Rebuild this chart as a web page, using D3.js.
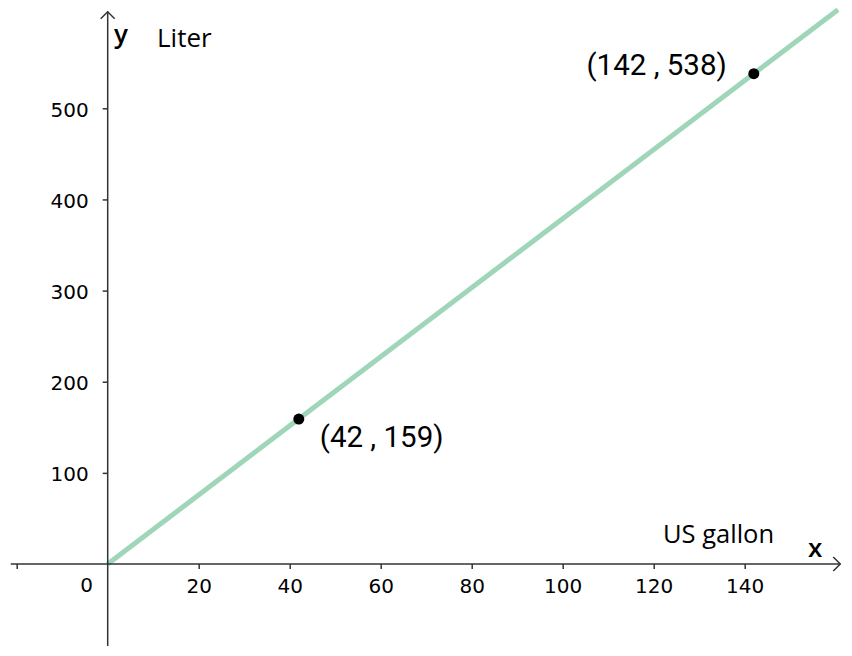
<!DOCTYPE html>
<html lang="en">
<meta charset="UTF-8">
<title>US gallon to Liter</title>
<script src="https://d3js.org/d3.v7.min.js"></script>
<style>
  body { margin: 0; background: #fff; }
  .tick text { font-family: "DejaVu Sans", sans-serif; font-size: 20px; fill: #000; }
  .tick line { stroke: #333; stroke-width: 1.5; }
</style>
<body>
<div id="my_dataviz"></div>
<script>

// data
var xTicks = [-20, 20, 40, 60, 80, 100, 120, 140];
var yTicks = [100, 200, 300, 400, 500];
var points = [[42, 159], [142, 538]];
var pointLabels = ["(42 , 159)", "(142 , 538)"];
var lineX = [0, 160.5];          // the conversion line y = 3.79 x
var ratio = 538 / 142;
var xLimits = [-21.3, 161];
var yLimits = [-90, 606];

var width = 852, height = 656;

var svg = d3.select("#my_dataviz")
  .append("svg")
    .attr("width", width)
    .attr("height", height);

// scales
var x = d3.scaleLinear()
  .domain([0, 140])
  .range([107.7, 744.7]);
var y = d3.scaleLinear()
  .domain([0, 500])
  .range([564, 108.3]);

// conversion line
svg.append("line")
  .attr("x1", x(lineX[0]))
  .attr("y1", y(lineX[0] * ratio))
  .attr("x2", x(lineX[1]))
  .attr("y2", y(lineX[1] * ratio))
  .attr("stroke", "#9fd5b8")
  .attr("stroke-width", 5);

// X axis
var xAxis = svg.append("g")
  .attr("transform", "translate(0," + y(0) + ")")
  .call(d3.axisBottom(x)
    .tickValues(xTicks)
    .tickSize(5)
    .tickPadding(10)
    .tickFormat(function(d) { return d < 0 ? "" : d; }));
xAxis.select(".domain").remove();

// Y axis
var yAxis = svg.append("g")
  .attr("transform", "translate(" + x(0) + ",0)")
  .call(d3.axisLeft(y)
    .tickValues(yTicks)
    .tickSize(5)
    .tickPadding(14));
yAxis.select(".domain").remove();
yAxis.selectAll(".tick text").attr("dy", "0.4em");

// origin label
svg.append("text")
  .attr("x", x(0) - 21)
  .attr("y", y(0) + 28)
  .attr("text-anchor", "middle")
  .style("font-family", "DejaVu Sans, sans-serif")
  .style("font-size", "20px")
  .style("fill", "#000")
  .text("0");

// axis lines with arrow heads
var axisStroke = "#333";
svg.append("line")
  .attr("x1", x(xLimits[0])).attr("y1", y(0))
  .attr("x2", x(xLimits[1])).attr("y2", y(0))
  .attr("stroke", axisStroke).attr("stroke-width", 1.5);
svg.append("path")
  .attr("d", "M" + (x(xLimits[1]) - 7) + "," + (y(0) - 7) + "L" + x(xLimits[1]) + "," + y(0) + "L" + (x(xLimits[1]) - 7) + "," + (y(0) + 7))
  .attr("fill", "none").attr("stroke", axisStroke).attr("stroke-width", 1.5);

svg.append("line")
  .attr("x1", x(0)).attr("y1", y(yLimits[0]))
  .attr("x2", x(0)).attr("y2", y(yLimits[1]))
  .attr("stroke", axisStroke).attr("stroke-width", 1.5);
svg.append("path")
  .attr("d", "M" + (x(0) - 7) + "," + (y(yLimits[1]) + 7) + "L" + x(0) + "," + y(yLimits[1]) + "L" + (x(0) + 7) + "," + (y(yLimits[1]) + 7))
  .attr("fill", "none").attr("stroke", axisStroke).attr("stroke-width", 1.5);

// axis names
svg.append("text")
  .attr("x", 808).attr("y", 557)
  .style("font-family", "Open Sans, sans-serif")
  .style("font-size", "26px")
  .style("font-weight", "600")
  .text("x");
svg.append("text")
  .attr("x", 114).attr("y", 43)
  .style("font-family", "Open Sans, sans-serif")
  .style("font-size", "26px")
  .style("font-weight", "600")
  .text("y");

// unit labels
svg.append("text")
  .attr("x", 663).attr("y", 543)
  .style("font-family", "Open Sans, sans-serif")
  .style("font-size", "25.5px")
  .text("US gallon");
svg.append("text")
  .attr("x", 157).attr("y", 47)
  .style("font-family", "Open Sans, sans-serif")
  .style("font-size", "26px")
  .text("Liter");

// points
svg.append("g")
  .selectAll("circle")
  .data(points)
  .enter()
  .append("circle")
    .attr("cx", function(d) { return x(d[0]); })
    .attr("cy", function(d) { return y(d[1]); })
    .attr("r", 5.5)
    .style("fill", "#000");

// point labels
svg.append("text")
  .attr("x", x(points[0][0]) + 21)
  .attr("y", y(points[0][1]) + 28)
  .style("font-family", "Roboto, sans-serif")
  .style("font-size", "29.5px")
  .text(pointLabels[0]);
svg.append("text")
  .attr("x", x(points[1][0]) - 27)
  .attr("y", y(points[1][1]) + 1)
  .attr("text-anchor", "end")
  .style("font-family", "Roboto, sans-serif")
  .style("font-size", "29.5px")
  .text(pointLabels[1]);

</script>
</body>
</html>
